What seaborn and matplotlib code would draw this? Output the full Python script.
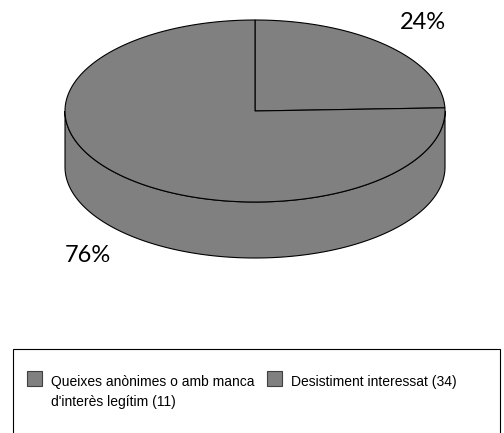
import numpy as np
import matplotlib
matplotlib.use("Agg")
import matplotlib.pyplot as plt
from matplotlib.patches import Polygon, Rectangle
import seaborn as sns

# ---- data ----
categories = ["Queixes anònimes o amb manca\nd'interès legítim (11)",
              "Desistiment interessat (34)"]
values = [11, 34]
slice_colors = ["#808080", "#808080"]

sns.set_theme(style="white")
plt.rcParams['font.family'] = ['Liberation Sans', 'DejaVu Sans']

fig = plt.figure(figsize=(5.04, 4.33), dpi=100)
ax = fig.add_axes([0, 0, 1, 1])
ax.set_xlim(0, 504)
ax.set_ylim(433, 0)
ax.axis('off')

# pie geometry (pixels)
cx, cy, a, b, depth = 255, 111, 190, 91, 56
lw = 0.8

def ell(t, dy=0.0):
    t = np.radians(t)
    return np.column_stack([cx + a * np.cos(t), cy - b * np.sin(t) + dy])

total = float(sum(values))
fracs = [v / total for v in values]
start = 90.0
wedges = []
for f in fracs:
    end = start - 360.0 * f
    wedges.append((end, start))
    start = end

# side walls (front half only)
for (lo, hi), col in zip(wedges, slice_colors):
    for flo, fhi in [(-540, -360), (-180, 0), (180, 360)]:
        s, e = max(lo, flo), min(hi, fhi)
        if e > s:
            t = np.linspace(s, e, 200)
            top = ell(t)
            bot = ell(t[::-1], depth)
            ax.add_patch(Polygon(np.vstack([top, bot]), closed=True,
                                 facecolor=col, edgecolor='black', lw=lw))

# top faces
for (lo, hi), col in zip(wedges, slice_colors):
    t = np.linspace(lo, hi, 300)
    pts = np.vstack([[cx, cy], ell(t)])
    ax.add_patch(Polygon(pts, closed=True, facecolor=col,
                         edgecolor='black', lw=lw, joinstyle='miter'))

# percentage labels
rx, ry = 1.27, 1.35
for (lo, hi), f in zip(wedges, fracs):
    m = np.radians((lo + hi) / 2)
    x = cx + rx * a * np.cos(m)
    y = cy - ry * b * np.sin(m)
    if np.sin(m) < 0:
        y += depth
    ax.text(x, y, f"{round(f * 100)}%", ha='center', va='center',
            fontsize=17, color='black', family=['Lato', 'DejaVu Sans'],
            fontweight='normal')

# legend
ax.add_patch(Rectangle((13, 349), 487, 120, facecolor='white',
                       edgecolor='black', lw=0.8))
item_x = [27, 267]
for xx, lab, col in zip(item_x, categories, slice_colors):
    ax.add_patch(Rectangle((xx, 371), 15, 15, facecolor=col,
                           edgecolor='#404040', lw=0.8))
    ax.text(xx + 24, 375, lab, ha='left', va='top', fontsize=10,
            linespacing=1.55, color='black')

fig.savefig("out.png", dpi=100)
